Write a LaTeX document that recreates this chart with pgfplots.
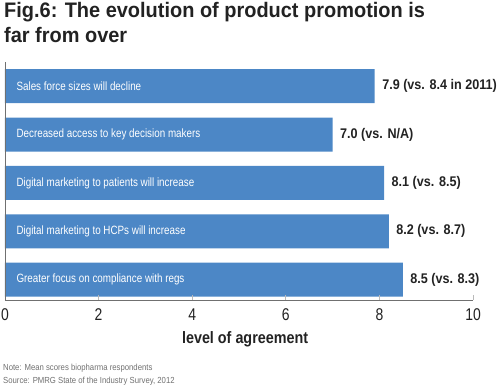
\documentclass[border=0pt]{standalone}
\usepackage{pgfplots}
\pgfplotsset{compat=1.18}
\usepackage{fontspec}
\setmainfont[FakeStretch=0.82]{Liberation Sans}
\newfontfamily\titlefont[FakeStretch=0.95]{Liberation Sans}
\newfontfamily\valfont[FakeStretch=0.9]{Liberation Sans}
\newfontfamily\labfont[FakeStretch=0.87]{Liberation Sans}
\newfontfamily\notefont[FakeStretch=0.88]{Liberation Sans}
\definecolor{barblue}{HTML}{4C87C6}
\definecolor{txt}{HTML}{222222}
\definecolor{axgray}{HTML}{707070}
\begin{document}
\begin{tikzpicture}
\useasboundingbox (0,0) rectangle (500pt,386pt);
% title
\node[anchor=base west, inner sep=0pt, font=\titlefont\fontsize{21}{21}\selectfont\bfseries, text=txt] at (4pt,368pt) {Fig.6: The evolution of product promotion is};
\node[anchor=base west, inner sep=0pt, font=\titlefont\fontsize{21}{21}\selectfont\bfseries, text=txt] at (4pt,343pt) {far from over};
\begin{axis}[
  at={(5pt,86pt)}, anchor=south west,
  scale only axis, width=468pt, height=238pt,
  xmin=0, xmax=10, ymin=-0.42, ymax=4.5,
  axis x line=bottom, axis y line=left,
  axis line style={-, draw=axgray, line width=0.8pt},
  axis on top,
  xtick={0,2,4,6,8,10},
  tick align=inside,
  major tick length=5pt,
  xtick style={draw=gray!55, line width=0.8pt},
  ytick={0,1,2,3,4},
  yticklabels={Greater focus on compliance with regs, Digital marketing to HCPs will increase, Digital marketing to patients will increase, Decreased access to key decision makers, Sales force sizes will decline},
  ytick style={draw=none},
  yticklabel style={anchor=west, xshift=13pt, text=white, font=\fontsize{12}{12}\selectfont},
  /pgf/number format/assume math mode=true,
  xticklabel style={font=\fontsize{17}{17}\selectfont, text=txt, yshift=-5pt},
  xlabel={level of agreement},
  xlabel style={at={(axis description cs:0.513,0)}, anchor=base, yshift=-43pt, font=\labfont\fontsize{16.5}{16.5}\selectfont\bfseries, text=txt},
  xbar, bar width=34pt,
  nodes near coords,
  point meta=explicit symbolic,
  nodes near coords style={anchor=west, xshift=4pt, font=\valfont\fontsize{14}{14}\selectfont\bfseries, text=txt},
  clip=false,
]
\addplot[fill=barblue, draw=none] table[meta=lab, col sep=comma] {
x,y,lab
8.5,0,8.5 (vs. 8.3)
8.2,1,8.2 (vs. 8.7)
8.1,2,8.1 (vs. 8.5)
7.0,3,7.0 (vs. N/A)
7.9,4,7.9 (vs. 8.4 in 2011)
};
\end{axis}
\node[anchor=base west, inner sep=0pt, font=\notefont\fontsize{8.8}{8.8}\selectfont, text=axgray] at (3pt,16pt) {Note: Mean scores biopharma respondents};
\node[anchor=base west, inner sep=0pt, font=\notefont\fontsize{8.8}{8.8}\selectfont, text=axgray] at (3pt,3pt) {Source: PMRG State of the Industry Survey, 2012};
\end{tikzpicture}
\end{document}
